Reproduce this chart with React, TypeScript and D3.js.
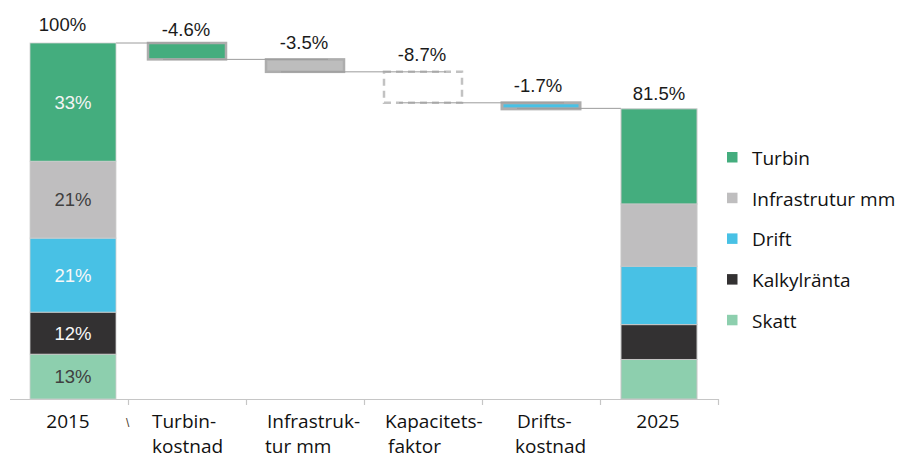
import React from "react";
import * as d3 from "d3";

// ---- data ----
const categories = ["2015", "Turbin-kostnad", "Infrastruk-tur mm", "Kapacitets-faktor", "Drifts-kostnad", "2025"];
const categoryLines = [["2015"], ["Turbin-", "kostnad"], ["Infrastruk-", "tur mm"], ["Kapacitets-", "faktor"], ["Drifts-", "kostnad"], ["2025"]];
const seriesNames = ["Turbin", "Infrastrutur mm", "Drift", "Kalkylränta", "Skatt"];
const values2015 = [33.2, 21.6, 20.8, 11.8, 12.6];
const values2025 = [26.7, 17.5, 16.4, 9.8, 11.1];
const deltas = [-4.6, -3.5, -8.7, -1.7];
const deltaLabels = ["-4.6%", "-3.5%", "-8.7%", "-1.7%"];
const totalLabels = ["100%", "81.5%"];
const segLabels2015 = ["33%", "21%", "21%", "12%", "13%"];

// ---- styles ----
const colors = ["#44ad7e", "#bfbebf", "#48c1e5", "#333132", "#8dcfae"];
const segLabelColors = ["#f4f4f4", "#404040", "#f8f8f8", "#f8f8f8", "#404040"];
const valueFont = "'Liberation Sans', Arial, sans-serif";
const catFont = "'Open Sans', sans-serif";

export default function App() {
  const W = 901, H = 458;
  const y = d3.scaleLinear().domain([0, 100]).range([399, 43]);
  const x = d3.scaleBand<string>().domain(categories).range([10, 718]).padding(0);
  const bw = x.bandwidth();
  const barW = 78;
  const center = (i: number) => (x(categories[i]) as number) + bw / 2;

  // stacked bars (bottom = last series)
  const stackBar = (vals: number[]) => {
    const segs: { y0: number; y1: number; i: number }[] = [];
    let acc = 0;
    for (let i = vals.length - 1; i >= 0; i--) {
      segs.push({ y0: acc, y1: acc + vals[i], i });
      acc += vals[i];
    }
    return segs;
  };
  const segs2015 = stackBar(values2015);
  const segs2025 = stackBar(values2025);
  const left2015 = center(0) - 39;
  const w2015 = 86;
  const left2025 = center(5) - 38;
  const w2025 = 76;

  // waterfall
  const wf: { top: number; bottom: number; left: number }[] = [];
  let run = d3.sum(values2015);
  deltas.forEach((d, k) => {
    const next = run + d;
    wf.push({ top: run, bottom: next, left: center(k + 1) - barW / 2 });
    run = next;
  });

  const wfFill = [colors[0], "#bdbdbd", "none", colors[2]];
  const boxStroke = "#adadad";

  const labelLeftOffsets = [null, [24, 24], [21, 19], [21, 24], [35, 33], null];

  return (
    <svg width={W} height={H} style={{ position: "absolute", left: 0, top: 0, background: "#fff" }}>
      {/* axis */}
      <line x1={10} x2={718} y1={399.5} y2={399.5} stroke="#c6c6c6" strokeWidth={1.2} />
      {categories.slice(1).map((c) => (
        <line key={c} x1={(x(c) as number) + 0.5} x2={(x(c) as number) + 0.5} y1={399} y2={405} stroke="#c6c6c6" strokeWidth={1.2} />
      ))}
      <line x1={718.5} x2={718.5} y1={399} y2={405} stroke="#c6c6c6" strokeWidth={1.2} />

      {/* waterfall bars */}
      {wf.map((b, k) => (
        <rect
          key={k}
          x={b.left}
          y={y(b.top)}
          width={barW}
          height={y(b.bottom) - y(b.top)}
          fill={wfFill[k]}
          stroke={k === 2 ? "#c2c2c2" : boxStroke}
          strokeWidth={k === 3 ? 3 : 2.5}
          strokeDasharray={k === 2 ? "7,5" : undefined}
        />
      ))}

      {/* connectors */}
      {wf.map((b, k) => {
        const x1 = k === 0 ? left2015 + w2015 : wf[k - 1].left + 15;
        const x2 = b.left + 62;
        return <line key={"c" + k} x1={x1} x2={x2} y1={y(b.top)} y2={y(b.top)} stroke="#9c9c9c" strokeWidth={1} />;
      })}
      <line x1={wf[3].left + 15} x2={left2025} y1={y(run) - 0.5} y2={y(run) - 0.5} stroke="#9c9c9c" strokeWidth={1} />

      {/* stacked 2015 */}
      {segs2015.map((s) => (
        <rect key={"a" + s.i} x={left2015} y={y(s.y1)} width={w2015} height={y(s.y0) - y(s.y1)} fill={colors[s.i]} stroke="#cfcfcf" strokeWidth={0.8} />
      ))}
      {segs2015.map((s) => (
        <text
          key={"al" + s.i}
          x={left2015 + w2015 / 2}
          y={(y(s.y0) + y(s.y1)) / 2 + 6.5}
          textAnchor="middle"
          fontFamily={valueFont}
          fontSize={18.5}
          fill={segLabelColors[s.i]}
        >
          {segLabels2015[s.i]}
        </text>
      ))}

      {/* stacked 2025 */}
      {segs2025.map((s) => (
        <rect key={"b" + s.i} x={left2025} y={y(s.y1)} width={w2025} height={y(s.y0) - y(s.y1)} fill={colors[s.i]} stroke="#c6c6c6" strokeWidth={1} />
      ))}

      {/* value labels */}
      <text x={center(0) - 6.5} y={y(100) - 12} textAnchor="middle" fontFamily={valueFont} fontSize={18.5} fill="#1a1a1a">
        {totalLabels[0]}
      </text>
      {wf.map((b, k) => (
        <text key={"v" + k} x={center(k + 1) - (k === 3 ? 3 : 1)} y={y(b.top) - (k === 0 ? 7.5 : 10.5)} textAnchor="middle" fontFamily={valueFont} fontSize={18.5} fill="#1a1a1a">
          {deltaLabels[k]}
        </text>
      ))}
      <text x={center(5)} y={y(run) - 9} textAnchor="middle" fontFamily={valueFont} fontSize={18.5} fill="#1a1a1a">
        {totalLabels[1]}
      </text>

      {/* category labels */}
      {categoryLines.map((lines, i) => {
        const offs = labelLeftOffsets[i];
        return lines.map((ln, j) =>
          offs ? (
            <text key={i + "-" + j} x={(x(categories[i]) as number) + offs[j]} y={428 + j * 25} fontFamily={catFont} fontSize={19} fill="#111">
              {ln}
            </text>
          ) : (
            <text key={i + "-" + j} x={center(i) - 1} y={428} textAnchor="middle" fontFamily={catFont} fontSize={19} fill="#111">
              {ln}
            </text>
          )
        );
      })}
      <text x={126} y={427} fontFamily={valueFont} fontSize={12} fill="#4a3a2a">\</text>

      {/* legend */}
      {seriesNames.map((n, i) => {
        const base = 165 + i * 40.7;
        return (
          <g key={n}>
            <rect x={727} y={base - 13} width={10.5} height={10.5} fill={colors[i]} />
            <text x={752} y={base} fontFamily={catFont} fontSize={19} fill="#111">
              {n}
            </text>
          </g>
        );
      })}
    </svg>
  );
}
